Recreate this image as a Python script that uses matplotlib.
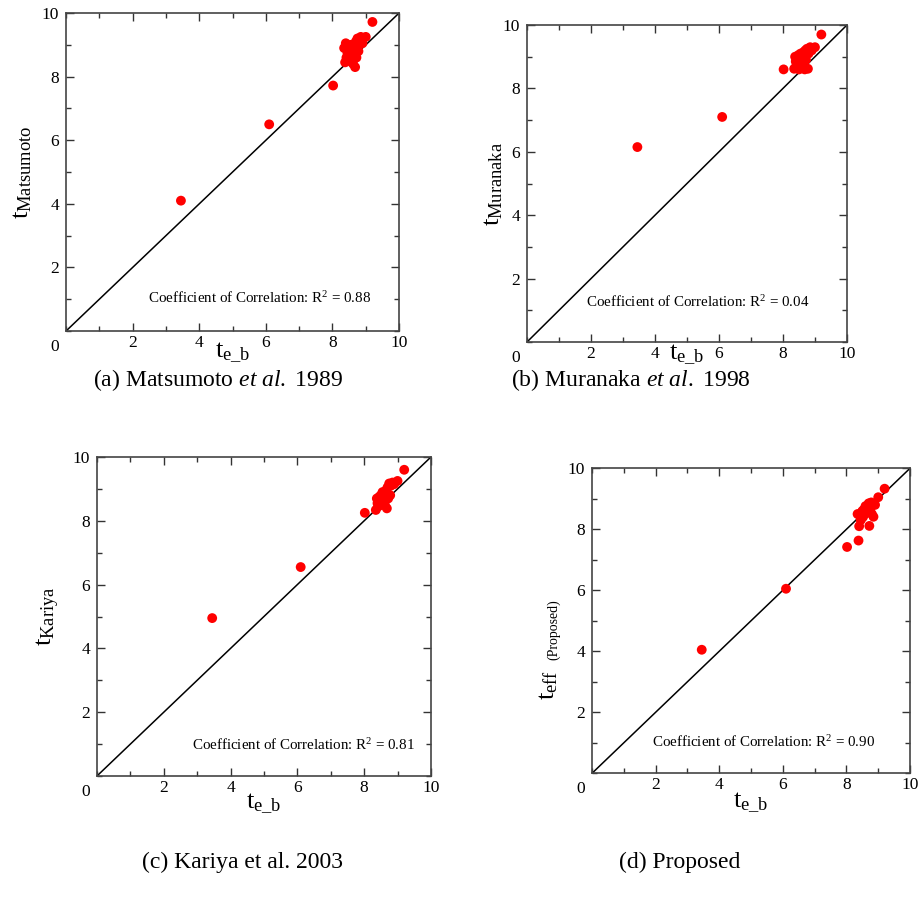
import matplotlib
matplotlib.use("Agg")
import matplotlib.pyplot as plt
from matplotlib.ticker import MultipleLocator, FixedLocator

plt.rcParams['font.family'] = ['Liberation Serif', 'DejaVu Serif']
plt.rcParams['mathtext.fontset'] = 'custom'
plt.rcParams['mathtext.rm'] = 'Liberation Serif'
plt.rcParams['mathtext.it'] = 'Liberation Serif:italic'

# t_e_b values (shared by all four panels)
te_b = [3.45, 6.10, 8.02, 9.20, 8.35, 8.38, 8.40, 8.42, 8.45, 8.48, 8.50, 8.52, 8.55,
        8.58, 8.60, 8.62, 8.65, 8.68, 8.70, 8.72, 8.75, 8.78, 8.80, 8.85, 8.90, 9.00]

t_matsumoto = [4.10, 6.50, 7.72, 9.72, 8.90, 8.45, 9.05, 8.60, 8.75, 8.95, 8.50, 8.80, 9.00,
               8.70, 8.85, 8.40, 8.95, 8.30, 9.10, 8.60, 9.20, 8.80, 9.00, 9.25, 9.05, 9.25]
t_muranaka = [6.15, 7.10, 8.60, 9.70, 8.62, 9.00, 8.85, 8.70, 8.90, 9.05, 8.60, 8.95, 9.10,
              8.80, 9.00, 8.65, 9.15, 8.60, 9.20, 8.90, 9.25, 8.62, 9.10, 9.30, 9.20, 9.30]
t_kariya = [4.95, 6.55, 8.25, 9.60, 8.34, 8.70, 8.55, 8.45, 8.75, 8.60, 8.80, 8.50, 8.90,
            8.65, 8.85, 8.50, 8.95, 8.39, 9.05, 8.70, 9.17, 8.80, 9.10, 9.20, 9.15, 9.25]
t_proposed = [4.05, 6.05, 7.42, 9.33, 8.50, 7.63, 8.10, 8.45, 8.30, 8.55, 8.60, 8.40, 8.65,
              8.50, 8.76, 8.55, 8.70, 8.60, 8.85, 8.11, 8.65, 8.88, 8.50, 8.41, 8.80, 9.05]

r2_values = ['0.88', '0.04', '0.81', '0.90']
captions = [r'(a) Matsumoto $\mathit{et\ al.}$ 1989',
            r'(b) Muranaka $\mathit{et\ al.}$ 1998',
            '(c) Kariya et al. 2003',
            '(d) Proposed']
ylabels = [r'$\mathrm{t_{Matsumoto}}$', r'$\mathrm{t_{Muranaka}}$',
           r'$\mathrm{t_{Kariya}}$', r'$\mathrm{t_{eff}}$']

fig = plt.figure(figsize=(9.21, 9.0), dpi=100)

# axes rectangles in figure fraction
rects = [[0.0717, 0.6322, 0.3616, 0.3533],
         [0.5722, 0.6200, 0.3474, 0.3522],
         [0.1053, 0.1378, 0.3626, 0.3544],
         [0.6428, 0.1408, 0.3453, 0.3389]]
r2_pos = [(5.8, 1.04), (5.34, 1.26), (6.17, 0.97), (5.38, 1.02)]
ylab_pos = [(-0.095, 0.5), (-0.07, 0.5), (-0.105, 0.5), (-0.10, 0.29)]
xlab_y = [-0.03, -0.003, -0.05, -0.058]
caption_pos = [(0.237, 0.578), (0.685, 0.578), (0.263, 0.042), (0.738, 0.042)]
series = [t_matsumoto, t_muranaka, t_kariya, t_proposed]

for i in range(4):
    ax = fig.add_axes(rects[i])
    ax.plot([0, 10], [0, 10], color='black', lw=1.1, zorder=1)
    ax.scatter(te_b, series[i], s=50, color='#ff0000', edgecolors='none', zorder=2)
    ax.set_xlim(0, 10)
    ax.set_ylim(0, 10)
    ax.xaxis.set_major_locator(FixedLocator([2, 4, 6, 8, 10]))
    ax.yaxis.set_major_locator(FixedLocator([2, 4, 6, 8, 10]))
    ax.xaxis.set_minor_locator(MultipleLocator(1))
    ax.yaxis.set_minor_locator(MultipleLocator(1))
    ax.tick_params(which='both', direction='in', top=True, right=True,
                   labelsize=12.5, color='#333333', labelfontfamily='Liberation Serif')
    ax.tick_params(which='major', length=6, width=1)
    ax.tick_params(which='minor', length=3.5, width=1)
    ax.tick_params(axis='x', pad=3)
    ax.tick_params(axis='y', pad=5)
    for sp in ax.spines.values():
        sp.set_linewidth(1.2)
        sp.set_color('#444444')
    ax.text(-0.022, -0.025, '0', transform=ax.transAxes, ha='right', va='top', fontsize=12.5)
    ax.set_xlabel(r'$\mathrm{t_{e\_b}}$', fontsize=19)
    ax.xaxis.set_label_coords(0.5, xlab_y[i])
    ax.set_ylabel(ylabels[i], fontsize=19)
    ax.yaxis.set_label_coords(*ylab_pos[i])
    ax.text(r2_pos[i][0], r2_pos[i][1],
            r'Coefficient of Correlation: R$^2$ = ' + r2_values[i],
            ha='center', va='center', fontsize=10.8)
    fig.text(caption_pos[i][0], caption_pos[i][1], captions[i],
             ha='center', va='center', fontsize=17)
    if i == 3:
        ax.text(-0.122, 0.47, '(Proposed)', transform=ax.transAxes, rotation=90,
                ha='center', va='center', fontsize=10)

fig.savefig('out.png', dpi=100)
